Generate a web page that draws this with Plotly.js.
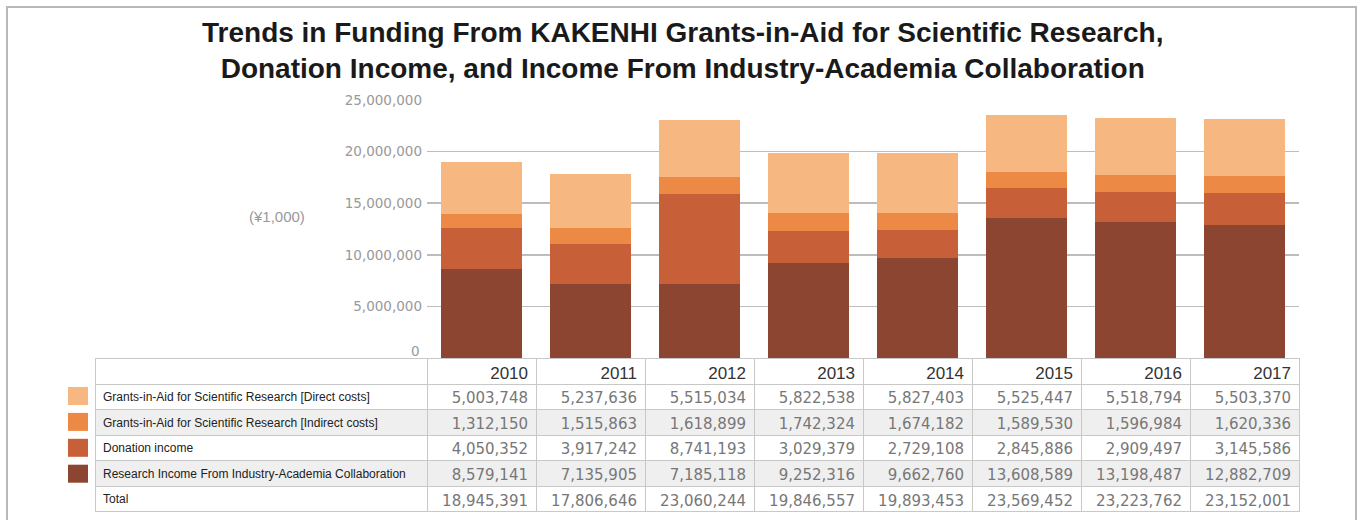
<!DOCTYPE html>
<html>
<head>
<meta charset="utf-8">
<script src="https://cdn.plot.ly/plotly-3.0.1.min.js"></script>
<style>
	body { margin: 0; background: #fff; }
	#frame { position: absolute; left: 6px; top: 6px; width: 1347px; height: 530px; border: 2px solid #b9b9b9; }
	#plotlyChart { position: absolute; left: 0; top: 0; width: 1360px; height: 520px; }
</style>
</head>
<body>
<div id="frame"></div>
<div id="plotlyChart"></div>
<script>
var years = ["2010", "2011", "2012", "2013", "2014", "2015", "2016", "2017"];
var seriesNames = [
	"Grants-in-Aid for Scientific Research [Direct costs]",
	"Grants-in-Aid for Scientific Research [Indirect costs]",
	"Donation income",
	"Research Income From Industry-Academia Collaboration"
];
var seriesColors = ["#f6b880", "#ec8944", "#c75f38", "#8b4530"];
var directCosts = [5003748, 5237636, 5515034, 5822538, 5827403, 5525447, 5518794, 5503370];
var indirectCosts = [1312150, 1515863, 1618899, 1742324, 1674182, 1589530, 1596984, 1620336];
var donationIncome = [4050352, 3917242, 8741193, 3029379, 2729108, 2845886, 2909497, 3145586];
var industryIncome = [8579141, 7135905, 7185118, 9252316, 9662760, 13608589, 13198487, 12882709];
var totals = [18945391, 17806646, 23060244, 19846557, 19893453, 23569452, 23223762, 23152001];
var yTicks = [5000000, 10000000, 15000000, 20000000, 25000000];

function drawChart(targetDiv="plotlyChart") {
	const W = 1360, H = 520;
	let seriesValues = [directCosts, indirectCosts, donationIncome, industryIncome];

	// bars, stacked from the bottom series up
	let data = [];
	for (let i = seriesValues.length - 1; i >= 0; i--) {
		data.push({
			type: "bar", x: years, y: seriesValues[i], name: seriesNames[i],
			marker: {color: seriesColors[i]}, hoverinfo: "skip", showlegend: false
		});
	}

	// table under the bars
	let fmt = v => v.toLocaleString("en-US");
	let rowLabels = seriesNames.concat(["Total"]);
	let columns = [rowLabels];
	let rowFill = ["#ffffff", "#efefef", "#ffffff", "#efefef", "#ffffff"];
	let fills = [rowFill];
	for (let j = 0; j < years.length; j++) {
		let col = seriesValues.map(s => fmt(s[j]));
		col.push(fmt(totals[j]));
		columns.push(col);
		fills.push(rowFill);
	}
	let colArr = (first, rest) => [first].concat(years.map(() => rest));
	data.push({
		type: "table",
		domain: {x: [95 / W, 1299 / W], y: [8 / H, 162 / H]},
		columnwidth: colArr(332, 109),
		header: {
			values: [""].concat(years),
			align: colArr("left", "right"),
			height: 26,
			fill: {color: "#ffffff"},
			line: {color: "#c8c8c8", width: 1},
			font: {family: "Arial, Liberation Sans", size: 17, color: "#333"}
		},
		cells: {
			values: columns,
			align: colArr("left", "right"),
			height: 25.6,
			fill: {color: fills},
			line: {color: "#c8c8c8", width: 1},
			font: {
				family: colArr("Arial, Liberation Sans", "DejaVu Sans"),
				size: colArr(12, 15),
				color: colArr("#222", "#777")
			}
		}
	});

	// legend swatches beside the table rows
	let shapes = [];
	for (let i = 0; i < seriesColors.length; i++) {
		let top = 387 + i * 25.9;
		shapes.push({
			type: "rect", xref: "paper", yref: "paper",
			x0: 68 / W, x1: 88 / W, y0: 1 - (top + 18) / H, y1: 1 - top / H,
			fillcolor: seriesColors[i], line: {width: 0}
		});
	}

	let tickFont = {family: "DejaVu Sans", size: 13.5, color: "#999"};
	var layout = {
		width: W, height: H,
		margin: {l: 0, r: 0, t: 0, b: 0},
		paper_bgcolor: "rgba(0,0,0,0)",
		plot_bgcolor: "rgba(0,0,0,0)",
		title: {
			text: "<b>Trends in Funding From KAKENHI Grants-in-Aid for Scientific Research,<br>Donation Income, and Income From Industry-Academia Collaboration</b>",
			font: {family: "Arial, Liberation Sans", size: 28, color: "#1a1a1a"},
			x: 0.502, xanchor: "center", y: 1 - 42 / H, yanchor: "middle", yref: "container"
		},
		barmode: "stack",
		bargap: 0.25,
		xaxis: {
			domain: [427 / W, 1299 / W],
			showticklabels: false, showgrid: false, zeroline: false, fixedrange: true
		},
		yaxis: {
			domain: [1 - 358 / H, 1 - 100 / H],
			range: [0, 25000000],
			tickvals: yTicks,
			tickformat: ",d",
			showgrid: true, gridcolor: "#bdbdbd", gridwidth: 1.5,
			zeroline: false,
			ticklabelstandoff: 4,
			tickfont: tickFont,
			fixedrange: true
		},
		annotations: [{
			text: "(¥1,000)", xref: "paper", yref: "paper",
			x: 277 / W, y: 1 - 216 / H, xanchor: "center", yanchor: "middle", showarrow: false,
			font: {family: "Arial, Liberation Sans", size: 15, color: "#999"}
		}, {
			// zero label sits just above the table
			text: "0", xref: "paper", yref: "y",
			x: 427 / W, y: 0, xanchor: "right", yanchor: "middle", xshift: -5, yshift: 7,
			showarrow: false, font: tickFont
		}],
		shapes: shapes
	};
	Plotly.newPlot(targetDiv, data, layout, {displayModeBar: false, staticPlot: true});
}

drawChart();
</script>
</body>
</html>
